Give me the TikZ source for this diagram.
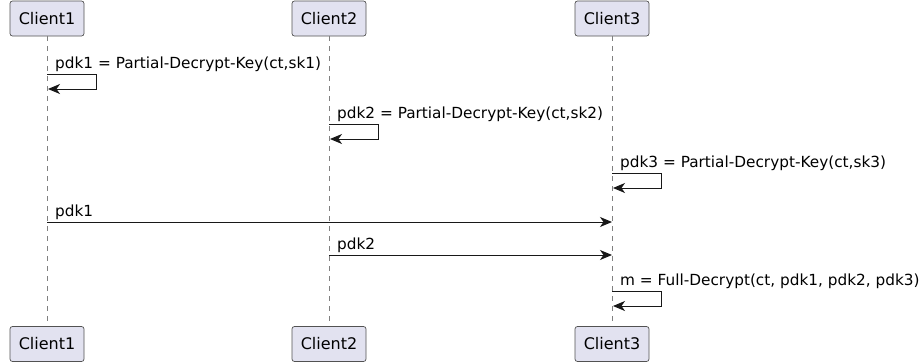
\documentclass[tikz,border=0pt]{standalone}
\usepackage{fontspec}
\setmainfont{DejaVu Sans}
\usetikzlibrary{arrows.meta}
\definecolor{actorfill}{HTML}{E2E2F0}
\definecolor{umlline}{HTML}{181818}
\tikzset{
  actor/.style={draw=umlline!75, fill=actorfill, rounded corners=2.5pt, line width=0.7pt,
    minimum width=74pt, minimum height=35pt, inner sep=0pt, font=\fontsize{16}{19}\selectfont},
  lifeline/.style={draw=umlline!55, line width=0.6pt, dash pattern=on 5pt off 5pt},
  msg/.style={draw=umlline, line width=1pt, -{Stealth[length=12pt,width=10pt,inset=3.5pt]}},
  msgtext/.style={anchor=base west, inner sep=0pt, font=\fontsize{15.3}{18}\selectfont},
}
\begin{document}
\begin{tikzpicture}[x=1pt,y=-1pt]
    \useasboundingbox (0,0) rectangle (924,364);
    \node[actor] (C1top) at (47,18.5) {Client1};
    \node[actor] (C2top) at (329,18.5) {Client2};
    \node[actor] (C3top) at (612,18.5) {Client3};
    \node[actor] (C1bot) at (47,344) {Client1};
    \node[actor] (C2bot) at (329,344) {Client2};
    \node[actor] (C3bot) at (612,344) {Client3};
    \draw[lifeline] (C1top) -- (C1bot);
    \draw[lifeline] (C2top) -- (C2bot);
    \draw[lifeline] (C3top) -- (C3bot);
    % self calls
    \coordinate (S1) at (47,74);
    \coordinate (R1) at (48,89);
    \coordinate (S2) at (329,124);
    \coordinate (R2) at (330,139);
    \coordinate (S3) at (612,173);
    \coordinate (R3) at (613,188);
    \coordinate (S4) at (612,291);
    \coordinate (R4) at (613,306);
    \draw[msg] (S1) -- ++(49,0) |- (R1);
    \draw[msg] (S2) -- ++(49,0) |- (R2);
    \draw[msg] (S3) -- ++(49,0) |- (R3);
    \draw[msg] (S4) -- ++(49,0) |- (R4);
    \node[msgtext] (L1) at (55,68) {pdk1 = Partial-Decrypt-Key(ct,sk1)};
    \node[msgtext] (L2) at (337,118) {pdk2 = Partial-Decrypt-Key(ct,sk2)};
    \node[msgtext] (L3) at (620,167) {pdk3 = Partial-Decrypt-Key(ct,sk3)};
    \node[msgtext] (L6) at (620,285) {m = Full-Decrypt(ct, pdk1, pdk2, pdk3)};
    % sends to Client3
    \coordinate (P1) at (47,222);
    \coordinate (Q1) at (612,222);
    \coordinate (P2) at (329,255);
    \coordinate (Q2) at (612,255);
    \draw[msg] (P1) -- (Q1);
    \draw[msg] (P2) -- (Q2);
    \node[msgtext] (L4) at (55,216) {pdk1};
    \node[msgtext] (L5) at (337,249) {pdk2};
\end{tikzpicture}
\end{document}
